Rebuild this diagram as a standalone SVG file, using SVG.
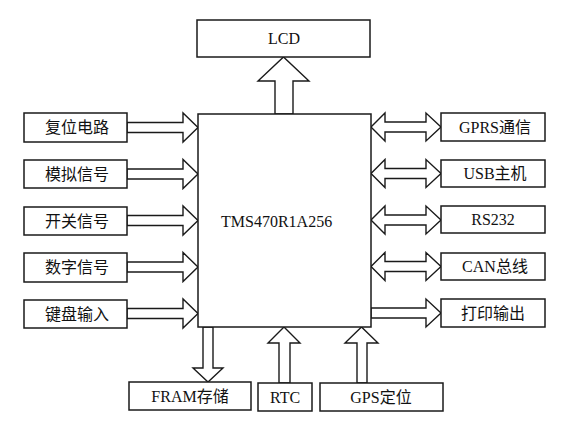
<svg xmlns="http://www.w3.org/2000/svg" width="581" height="421" viewBox="0 0 581 421">
<style>
.box{fill:#fff;stroke:#1a1a1a;stroke-width:1.5}
.arr{fill:#fff;stroke:#1a1a1a;stroke-width:1.4;stroke-linejoin:miter}
text{font-family:"Liberation Serif","Noto Sans CJK SC",serif;font-size:16px;fill:#111;text-anchor:middle}
</style>
<rect width="581" height="421" fill="#fff"/>
<g id="connectors">
<polygon class="arr" points="275,114 275,81 258,81 283.5,57 309,81 293,81 293,114"/>
<polygon class="arr" points="127,122.5 183,122.5 183,113 198,127.5 183,142 183,132.5 127,132.5"/>
<polygon class="arr" points="127,169 183,169 183,159.5 198,174 183,188.5 183,179 127,179"/>
<polygon class="arr" points="127,215.5 183,215.5 183,206 198,220.5 183,235 183,225.5 127,225.5"/>
<polygon class="arr" points="127,262 183,262 183,252.5 198,267 183,281.5 183,272 127,272"/>
<polygon class="arr" points="127,308.5 183,308.5 183,299 198,313.5 183,328 183,318.5 127,318.5"/>
<polygon class="arr" points="371,127 385,113 385,122 426,122 426,113 441,127 426,141 426,132 385,132 385,141"/>
<polygon class="arr" points="371,173.5 385,159.5 385,168.5 426,168.5 426,159.5 441,173.5 426,187.5 426,178.5 385,178.5 385,187.5"/>
<polygon class="arr" points="371,220 385,206 385,215 426,215 426,206 441,220 426,234 426,225 385,225 385,234"/>
<polygon class="arr" points="371,266.5 385,252.5 385,261.5 426,261.5 426,252.5 441,266.5 426,280.5 426,271.5 385,271.5 385,280.5"/>
<polygon class="arr" points="371,308 426,308 426,299 441,313 426,327 426,318 371,318"/>
<polygon class="arr" points="203,327 203,368 193,368 208,382 223,368 213,368 213,327"/>
<polygon class="arr" points="279,383 279,343 268,343 284,327 300,343 290,343 290,383"/>
<polygon class="arr" points="357,383 357,343 345,343 361.5,327 378,343 367,343 367,383"/>
</g>
<g id="lcd"><rect class="box" x="197" y="20" width="173" height="37"/><text x="284" y="44">LCD</text></g>
<g id="mcu"><rect class="box" x="198" y="114" width="173" height="213"/><text x="221" y="227" style="text-anchor:start">TMS470R1A256</text></g>
<g id="reset"><rect class="box" x="24" y="113" width="103" height="29"/><text x="77" y="133">复位电路</text></g>
<g id="analog"><rect class="box" x="24" y="160" width="103" height="28"/><text x="77" y="180">模拟信号</text></g>
<g id="switch"><rect class="box" x="24" y="207" width="103" height="28"/><text x="77" y="227">开关信号</text></g>
<g id="digital"><rect class="box" x="24" y="253" width="103" height="29"/><text x="77" y="273">数字信号</text></g>
<g id="keyboard"><rect class="box" x="24" y="300" width="103" height="28"/><text x="77" y="320">键盘输入</text></g>
<g id="gprs"><rect class="box" x="441" y="113" width="104" height="28"/><text x="495" y="133">GPRS通信</text></g>
<g id="usb"><rect class="box" x="441" y="160" width="104" height="27"/><text x="495" y="179">USB主机</text></g>
<g id="rs232"><rect class="box" x="441" y="206" width="104" height="27"/><text x="493" y="225">RS232</text></g>
<g id="can"><rect class="box" x="441" y="253" width="104" height="27"/><text x="495" y="272">CAN总线</text></g>
<g id="print"><rect class="box" x="441" y="299" width="104" height="28"/><text x="493" y="319">打印输出</text></g>
<g id="fram"><rect class="box" x="129" y="382" width="122" height="28"/><text x="190" y="402">FRAM存储</text></g>
<g id="rtc"><rect class="box" x="258" y="383" width="54" height="28"/><text x="285" y="403">RTC</text></g>
<g id="gps"><rect class="box" x="320" y="383" width="123" height="28"/><text x="381" y="403">GPS定位</text></g>
</svg>
